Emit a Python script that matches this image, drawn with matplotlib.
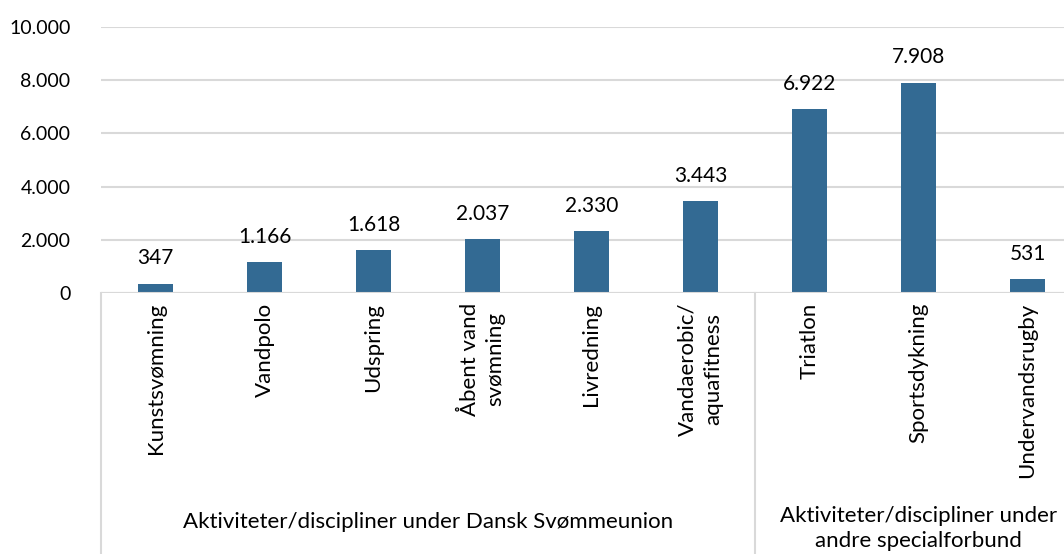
import matplotlib
matplotlib.use("Agg")
import matplotlib.pyplot as plt
import matplotlib.transforms as mtransforms

categories = ["Kunstsvømning", "Vandpolo", "Udspring", "Åbent vand\nsvømning", "Livredning",
              "Vandaerobic/\naquafitness", "Triatlon", "Sportsdykning", "Undervandsrugby"]
values = [347, 1166, 1618, 2037, 2330, 3443, 6922, 7908, 531]
groups = ["Aktiviteter/discipliner under Dansk Svømmeunion",
          "Aktiviteter/discipliner under\nandre specialforbund"]
group_sizes = [6, 3]
yticks = [0, 2000, 4000, 6000, 8000, 10000]

plt.rcParams['font.family'] = ['Lato', 'DejaVu Sans']
FS = 14
FS_CAT = 16

def fmt(v):
    return f"{v:,}".replace(",", ".")

fig = plt.figure(figsize=(10.64, 5.54), dpi=100)
ax = fig.add_axes([101/1064, 1-293/554, 981/1064, 266/554])

x = list(range(len(categories)))
bar_color = "#336A93"
ax.bar(x, values, width=0.32, color=bar_color, zorder=3)
ax.set_xlim(-0.5, len(categories) - 0.5)
ax.set_ylim(0, 10000)
ax.set_yticks(yticks)
ax.set_yticklabels([fmt(v) for v in yticks], fontsize=FS)
ax.tick_params(axis='y', length=0, pad=22)
ax.tick_params(axis='x', length=0, pad=7)
ax.set_xticks(x)
ax.set_xticklabels(categories, rotation=90, fontsize=FS_CAT, multialignment='center', va='top', ha='center',
                   linespacing=1.35)
ax.grid(axis='y', color='#d9d9d9', linewidth=1.5, zorder=0)
for s in ax.spines.values():
    s.set_visible(False)
ax.axhline(0, color='#d9d9d9', linewidth=1.5, zorder=4)

for xi, v in zip(x, values):
    ax.annotate(fmt(v), (xi, v), xytext=(0, 11), textcoords='offset points',
                ha='center', va='bottom', fontsize=FS_CAT - 1)

trans = mtransforms.blended_transform_factory(ax.transData, ax.transAxes)
start = -0.5
bottom = -1.0
for g, n in zip(groups, group_sizes):
    ax.plot([start, start], [0, bottom], transform=trans, color='#d9d9d9', linewidth=1.5, clip_on=False)
    center = start + n / 2
    if "\n" in g:
        ax.text(center, -0.885, g, transform=trans, ha='center', va='center', fontsize=FS_CAT, linespacing=1.3)
    else:
        ax.text(center, -0.86, g, transform=trans, ha='center', va='center', fontsize=FS_CAT)
    start += n

fig.savefig("out.png", dpi=100)
